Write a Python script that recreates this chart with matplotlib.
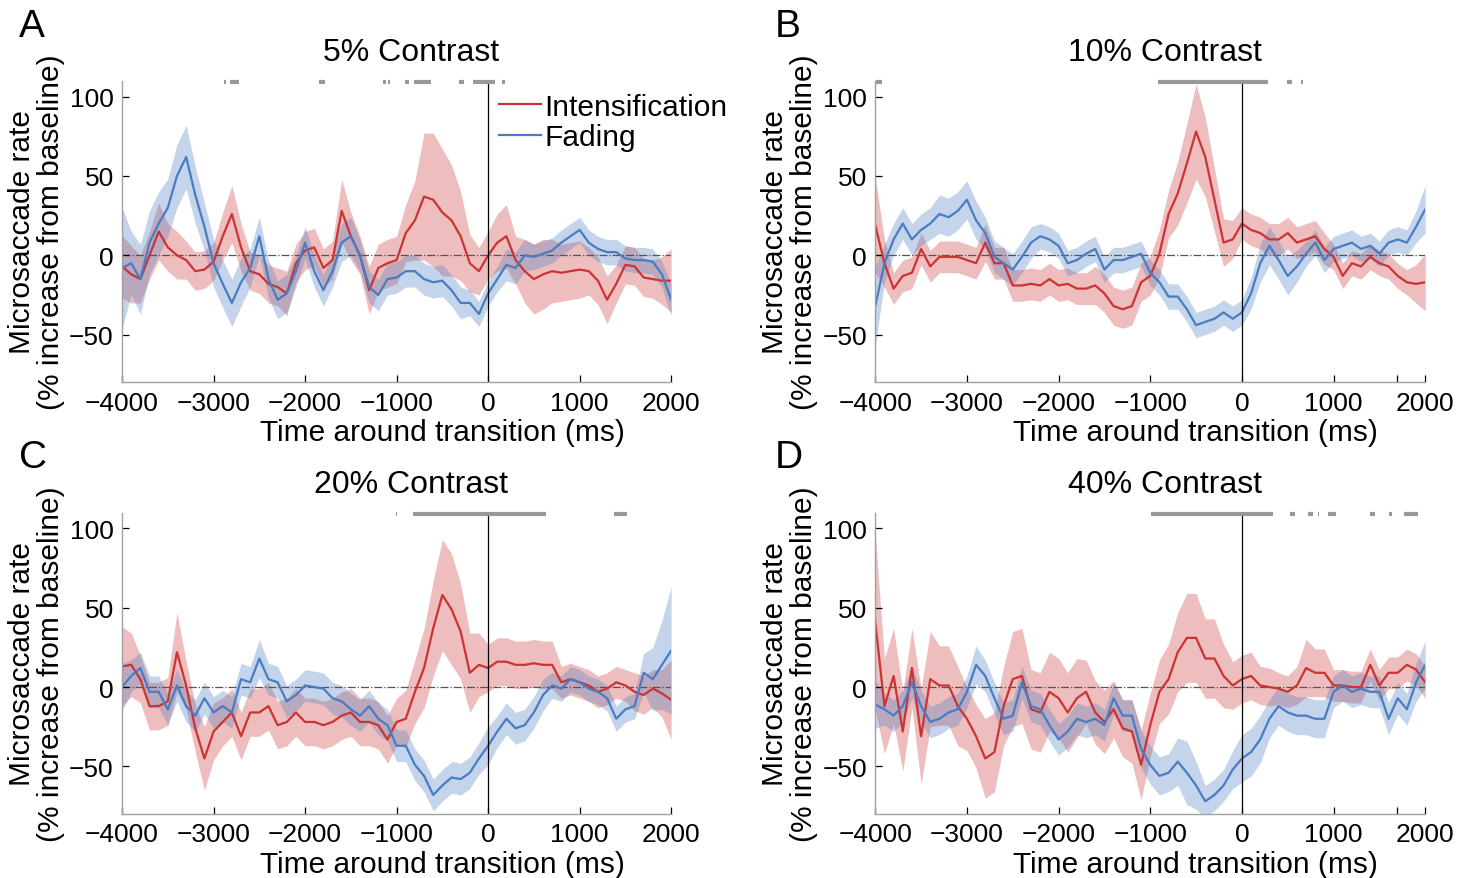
import numpy as np
import matplotlib
matplotlib.use('Agg')
import matplotlib.pyplot as plt

plt.rcParams['font.family'] = ['Liberation Sans', 'DejaVu Sans']

# time axis (ms), one sample every 100 ms
time_ms = np.arange(-4000, 2001, 100)

# A: 5% contrast
a_int = [-7, -12, -15, 0, 15, 5, 0, -3, -10, -9,
         -4, 12, 26, 5, -10, -12, -18, -20, -24, -5,
         3, 5, -8, -3, 28, 12, 0, -22, -8, -5,
         -3, 14, 22, 37, 35, 27, 22, 12, -5, -10,
         0, 8, 12, -3, -10, -15, -12, -10, -11, -10,
         -9, -10, -16, -28, -18, -6, -7, -14, -15, -16, -16]
a_int_ci = [20, 18, 15, 15, 18, 15, 15, 12, 12, 12,
            12, 15, 18, 15, 12, 12, 12, 12, 14, 12,
            12, 12, 12, 12, 20, 15, 12, 15, 15, 15,
            15, 18, 25, 40, 42, 40, 35, 28, 18, 15,
            15, 18, 20, 15, 20, 22, 22, 20, 18, 18,
            18, 15, 15, 15, 12, 12, 12, 12, 12, 15, 20]
a_fad = [-8, -5, -15, 8, 20, 30, 50, 62, 38, 18,
         -5, -18, -30, -17, -8, 12, -15, -28, -24, -10,
         8, -10, -22, -10, 8, 12, 0, -20, -25, -15,
         -14, -10, -10, -15, -17, -16, -22, -30, -30, -37,
         -24, -15, -6, -8, 0, -1, 1, 3, 8, 12,
         16, 8, 4, 2, 2, -2, -3, -3, -4, -12, -28]
a_fad_ci = [38, 20, 22, 20, 20, 18, 20, 20, 18, 15,
            15, 15, 15, 15, 12, 12, 12, 12, 12, 10,
            10, 10, 10, 10, 12, 12, 10, 10, 10, 10,
            10, 10, 10, 10, 10, 10, 10, 10, 8, 8,
            8, 8, 10, 10, 10, 8, 8, 8, 8, 8,
            8, 8, 8, 8, 8, 8, 8, 8, 8, 8, 10]
a_sig = [(-2884, -2865), (-2826, -2720), (-1845, -1778), (-1148, -1120),
         (-1093, -1070), (-903, -864), (-806, -626), (-317, -268),
         (-166, 76), (147, 183)]

# B: 10% contrast
b_int = [19, -5, -21, -13, -11, 4, -7, -1, -1, -1,
         -3, -5, 8, -5, -5, -19, -19, -18, -19, -15,
         -19, -18, -21, -21, -19, -24, -32, -34, -32, -17,
         -13, 1, 26, 39, 58, 78, 62, 35, 8, 10,
         20, 16, 14, 10, 10, 14, 8, 10, 12, 4,
         -1, -13, -5, -7, -1, -5, -7, -13, -17, -18, -17]
b_int_ci = [30, 15, 10, 10, 10, 10, 10, 10, 10, 10,
            10, 10, 12, 10, 10, 10, 10, 10, 10, 10,
            10, 10, 10, 10, 12, 12, 12, 12, 12, 12,
            12, 15, 15, 20, 25, 30, 25, 20, 15, 12,
            10, 10, 10, 10, 10, 10, 10, 10, 10, 10,
            8, 8, 8, 8, 8, 8, 8, 8, 8, 12, 18]
b_fad = [-32, -5, 10, 20, 10, 16, 20, 26, 24, 28,
         35, 22, 14, -1, -5, -9, -1, 8, 12, 10,
         6, -5, -3, 1, 4, -9, -3, -3, -1, 1,
         -11, -17, -26, -26, -34, -44, -42, -40, -36, -40,
         -36, -24, -5, 6, -3, -13, -7, 1, 8, -3,
         4, 6, 8, 4, 6, 1, 8, 10, 8, 18, 29]
b_fad_ci = [25, 12, 10, 10, 10, 10, 10, 12, 12, 12,
            12, 12, 10, 10, 10, 10, 10, 10, 8, 8,
            8, 8, 8, 8, 8, 8, 8, 8, 8, 8,
            8, 8, 8, 8, 8, 8, 8, 8, 8, 8,
            8, 10, 12, 12, 12, 12, 10, 8, 8, 8,
            8, 8, 8, 8, 8, 8, 8, 8, 8, 10, 15]
b_sig = [(-3989, -3924), (-920, 285), (489, 549), (650, 665)]

# C: 20% contrast
c_int = [13, 14, 5, -12, -12, -9, 22, 1, -26, -45,
         -28, -22, -16, -31, -16, -16, -12, -24, -22, -16,
         -22, -22, -24, -22, -18, -16, -22, -22, -24, -33,
         -22, -20, -3, 12, 37, 58, 49, 35, 9, 14,
         12, 16, 16, 14, 14, 15, 14, 14, 3, 5,
         3, 1, -3, -1, 3, 1, -3, -5, -1, -4, -8]
c_int_ci = [25, 20, 15, 15, 15, 15, 25, 15, 15, 20,
            18, 15, 15, 15, 15, 15, 15, 15, 15, 15,
            15, 15, 15, 15, 15, 15, 15, 15, 15, 15,
            15, 18, 20, 25, 30, 35, 35, 30, 25, 20,
            15, 15, 15, 15, 15, 15, 15, 15, 10, 10,
            10, 10, 10, 10, 10, 10, 12, 12, 12, 15, 25]
c_fad = [0, 7, 12, -3, -3, -14, 1, -12, -18, -7,
         -16, -12, -16, 5, 3, 18, 5, 3, -9, -5,
         1, 0, -1, -7, -9, -14, -18, -12, -20, -24,
         -37, -37, -49, -56, -68, -62, -57, -58, -54, -45,
         -37, -28, -20, -26, -24, -16, -5, 1, -1, 5,
         3, -1, -3, -7, -20, -14, -12, 9, 5, 14, 23]
c_fad_ci = [15, 10, 10, 10, 10, 10, 10, 10, 10, 10,
            10, 10, 10, 10, 10, 12, 10, 10, 10, 10,
            10, 10, 10, 10, 10, 10, 10, 10, 10, 10,
            10, 10, 10, 10, 10, 10, 10, 10, 10, 10,
            12, 10, 10, 10, 10, 10, 10, 8, 8, 8,
            8, 8, 8, 8, 8, 8, 8, 12, 20, 28, 40]
c_sig = [(-1005, -995), (-826, 633), (1371, 1516)]

# D: 40% contrast
d_int = [41, -12, 7, -28, 12, -31, 5, 1, 1, -12,
         -20, -31, -45, -41, -12, 5, 7, -14, -16, -3,
         -7, -16, -7, -3, -16, -22, -14, -26, -28, -49,
         -24, -3, 5, 22, 31, 31, 18, 18, 7, 1,
         5, 7, 1, 0, -1, -3, 1, 12, 9, 9,
         1, 1, 0, 0, 14, 1, 9, 9, 14, 11, 3]
d_int_ci = [55, 30, 30, 25, 25, 30, 30, 25, 25, 25,
            20, 20, 25, 25, 25, 30, 30, 25, 25, 25,
            25, 25, 25, 20, 20, 20, 18, 18, 20, 22,
            20, 20, 22, 25, 28, 28, 25, 25, 20, 15,
            15, 15, 12, 12, 10, 10, 12, 18, 15, 15,
            10, 10, 10, 10, 10, 10, 10, 10, 10, 10, 10]
d_fad = [-11, -14, -18, -12, 3, -12, -22, -20, -16, -14,
         -3, 14, 7, -7, -20, -18, 3, -12, -14, -24,
         -33, -28, -20, -22, -20, -24, -7, -18, -18, -39,
         -49, -56, -54, -47, -54, -62, -72, -68, -62, -52,
         -45, -41, -33, -20, -12, -16, -18, -18, -20, -20,
         -3, 1, -3, -1, -3, -3, -20, -7, -14, 3, 14]
d_fad_ci = [15, 10, 10, 10, 10, 10, 10, 10, 10, 10,
            10, 12, 10, 10, 10, 10, 10, 10, 10, 10,
            10, 10, 10, 10, 10, 10, 10, 10, 10, 12,
            12, 12, 12, 15, 20, 15, 10, 10, 10, 12,
            15, 15, 15, 12, 12, 12, 12, 12, 12, 12,
            10, 10, 10, 10, 10, 10, 10, 10, 10, 12, 15]
d_sig = [(-995, 336), (527, 578), (716, 775), (828, 838), (942, 1029),
         (1400, 1449), (1607, 1640), (1771, 1924)]

RED = '#cc3333'
BLUE = '#4a7cc2'
SPINE = '#a0a0a0'


def draw_panel(ax, title, int_mean, int_ci, fad_mean, fad_ci, sig, extra_tick=False):
    im, ic = np.array(int_mean, float), np.array(int_ci, float)
    fm, fc = np.array(fad_mean, float), np.array(fad_ci, float)
    ax.fill_between(time_ms, im - ic, im + ic, color=RED, alpha=0.32, lw=0)
    ax.fill_between(time_ms, fm - fc, fm + fc, color=BLUE, alpha=0.32, lw=0)
    ax.axhline(0, color='#555555', ls='-.', lw=0.9, zorder=1)
    ax.plot(time_ms, im, color=RED, lw=1.6, label='Intensification')
    ax.plot(time_ms, fm, color=BLUE, lw=1.6, label='Fading')
    ax.axvline(0, color='k', lw=0.9)
    for start, end in sig:
        ax.plot([start, end], [109, 109], color='#999999', lw=3,
                solid_capstyle='butt', clip_on=False)

    ax.set_xlim(-4000, 2000)
    ax.set_ylim(-80, 110)
    ax.set_xticks([-4000, -3000, -2000, -1000, 0, 1000, 2000])
    ax.set_yticks([-50, 0, 50, 100])
    if extra_tick:
        ax.set_xticks([1690], minor=True)
    ax.tick_params(direction='in', length=5, width=0.9, labelsize=19, pad=6,
                   which='both')
    for side in ['top', 'right']:
        ax.spines[side].set_visible(False)
    for side in ['left', 'bottom']:
        ax.spines[side].set_color(SPINE)
        ax.spines[side].set_linewidth(1.0)

    ax.set_title(title, fontsize=23, x=0.527, pad=15)
    ax.set_xlabel('Time around transition (ms)', fontsize=21.5)
    ax.xaxis.set_label_coords(0.583, -0.118)
    ax.set_ylabel('Microsaccade rate\n(% increase from baseline)',
                  fontsize=21.5, linespacing=1.05)
    ax.yaxis.set_label_coords(-0.104, 0.5)


fig = plt.figure(figsize=(14.76, 8.79), dpi=100)
ax_a = fig.add_axes([0.0827, 0.564, 0.372, 0.343])
ax_b = fig.add_axes([0.593, 0.564, 0.3726, 0.343])
ax_c = fig.add_axes([0.0827, 0.0728, 0.372, 0.343])
ax_d = fig.add_axes([0.593, 0.0728, 0.3726, 0.343])

draw_panel(ax_a, '5% Contrast', a_int, a_int_ci, a_fad, a_fad_ci, a_sig)
draw_panel(ax_b, '10% Contrast', b_int, b_int_ci, b_fad, b_fad_ci, b_sig, True)
draw_panel(ax_c, '20% Contrast', c_int, c_int_ci, c_fad, c_fad_ci, c_sig)
draw_panel(ax_d, '40% Contrast', d_int, d_int_ci, d_fad, d_fad_ci, d_sig, True)

ax_a.legend(loc='upper left', bbox_to_anchor=(0.665, 1.0), frameon=False,
            fontsize=21.5, handlelength=1.4, handletextpad=0.12,
            labelspacing=0.08, borderaxespad=0)

for letter, x, y in [('A', 0.013, 0.99), ('B', 0.525, 0.99),
                     ('C', 0.013, 0.499), ('D', 0.525, 0.499)]:
    fig.text(x, y, letter, fontsize=28, ha='left', va='top')

fig.savefig('out.png', dpi=100)
